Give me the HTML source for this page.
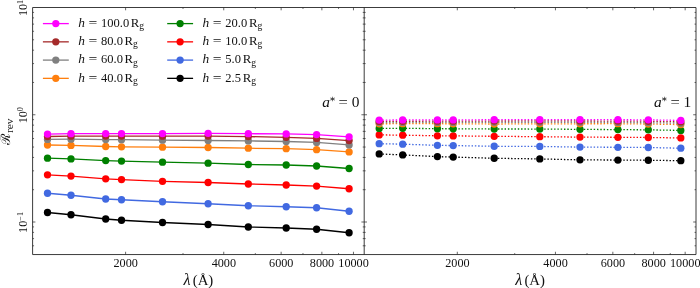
<!DOCTYPE html>
<html lang="en"><head><meta charset="utf-8"><title>R_rev vs wavelength</title>
<style>html,body{margin:0;padding:0;background:#fff}svg{display:block}text{font-family:"Liberation Serif","DejaVu Serif",serif;fill:#111}.it{font-style:italic}</style></head><body>
<svg width="700" height="288" viewBox="0 0 700 288">
<rect x="0" y="0" width="700" height="288" fill="#ffffff"/>
<polyline points="47.50,212.50 71.00,214.75 105.70,219.00 121.50,220.25 162.50,222.50 208.10,224.50 248.30,227.00 286.20,228.00 316.60,229.25 349.10,232.75" fill="none" stroke="#000000" stroke-width="1.30"/>
<circle cx="47.50" cy="212.50" r="3.65" fill="#000000"/>
<circle cx="71.00" cy="214.75" r="3.65" fill="#000000"/>
<circle cx="105.70" cy="219.00" r="3.65" fill="#000000"/>
<circle cx="121.50" cy="220.25" r="3.65" fill="#000000"/>
<circle cx="162.50" cy="222.50" r="3.65" fill="#000000"/>
<circle cx="208.10" cy="224.50" r="3.65" fill="#000000"/>
<circle cx="248.30" cy="227.00" r="3.65" fill="#000000"/>
<circle cx="286.20" cy="228.00" r="3.65" fill="#000000"/>
<circle cx="316.60" cy="229.25" r="3.65" fill="#000000"/>
<circle cx="349.10" cy="232.75" r="3.65" fill="#000000"/>
<polyline points="47.50,193.25 71.00,195.25 105.70,199.00 121.50,199.75 162.50,201.75 208.10,203.75 248.30,205.75 286.20,206.75 316.60,207.75 349.10,211.25" fill="none" stroke="#4169e1" stroke-width="1.30"/>
<circle cx="47.50" cy="193.25" r="3.65" fill="#4169e1"/>
<circle cx="71.00" cy="195.25" r="3.65" fill="#4169e1"/>
<circle cx="105.70" cy="199.00" r="3.65" fill="#4169e1"/>
<circle cx="121.50" cy="199.75" r="3.65" fill="#4169e1"/>
<circle cx="162.50" cy="201.75" r="3.65" fill="#4169e1"/>
<circle cx="208.10" cy="203.75" r="3.65" fill="#4169e1"/>
<circle cx="248.30" cy="205.75" r="3.65" fill="#4169e1"/>
<circle cx="286.20" cy="206.75" r="3.65" fill="#4169e1"/>
<circle cx="316.60" cy="207.75" r="3.65" fill="#4169e1"/>
<circle cx="349.10" cy="211.25" r="3.65" fill="#4169e1"/>
<polyline points="47.50,174.80 71.00,176.05 105.70,178.80 121.50,179.55 162.50,181.30 208.10,182.50 248.30,184.00 286.20,185.00 316.60,186.10 349.10,188.75" fill="none" stroke="#ff0000" stroke-width="1.30"/>
<circle cx="47.50" cy="174.80" r="3.65" fill="#ff0000"/>
<circle cx="71.00" cy="176.05" r="3.65" fill="#ff0000"/>
<circle cx="105.70" cy="178.80" r="3.65" fill="#ff0000"/>
<circle cx="121.50" cy="179.55" r="3.65" fill="#ff0000"/>
<circle cx="162.50" cy="181.30" r="3.65" fill="#ff0000"/>
<circle cx="208.10" cy="182.50" r="3.65" fill="#ff0000"/>
<circle cx="248.30" cy="184.00" r="3.65" fill="#ff0000"/>
<circle cx="286.20" cy="185.00" r="3.65" fill="#ff0000"/>
<circle cx="316.60" cy="186.10" r="3.65" fill="#ff0000"/>
<circle cx="349.10" cy="188.75" r="3.65" fill="#ff0000"/>
<polyline points="47.50,158.20 71.00,158.90 105.70,160.60 121.50,161.10 162.50,162.20 208.10,163.20 248.30,164.50 286.20,165.00 316.60,166.00 349.10,168.50" fill="none" stroke="#008000" stroke-width="1.30"/>
<circle cx="47.50" cy="158.20" r="3.65" fill="#008000"/>
<circle cx="71.00" cy="158.90" r="3.65" fill="#008000"/>
<circle cx="105.70" cy="160.60" r="3.65" fill="#008000"/>
<circle cx="121.50" cy="161.10" r="3.65" fill="#008000"/>
<circle cx="162.50" cy="162.20" r="3.65" fill="#008000"/>
<circle cx="208.10" cy="163.20" r="3.65" fill="#008000"/>
<circle cx="248.30" cy="164.50" r="3.65" fill="#008000"/>
<circle cx="286.20" cy="165.00" r="3.65" fill="#008000"/>
<circle cx="316.60" cy="166.00" r="3.65" fill="#008000"/>
<circle cx="349.10" cy="168.50" r="3.65" fill="#008000"/>
<polyline points="47.50,145.00 71.00,145.40 105.70,146.50 121.50,146.80 162.50,147.20 208.10,147.50 248.30,148.20 286.20,148.70 316.60,149.70 349.10,151.90" fill="none" stroke="#ff7f0e" stroke-width="1.30"/>
<circle cx="47.50" cy="145.00" r="3.65" fill="#ff7f0e"/>
<circle cx="71.00" cy="145.40" r="3.65" fill="#ff7f0e"/>
<circle cx="105.70" cy="146.50" r="3.65" fill="#ff7f0e"/>
<circle cx="121.50" cy="146.80" r="3.65" fill="#ff7f0e"/>
<circle cx="162.50" cy="147.20" r="3.65" fill="#ff7f0e"/>
<circle cx="208.10" cy="147.50" r="3.65" fill="#ff7f0e"/>
<circle cx="248.30" cy="148.20" r="3.65" fill="#ff7f0e"/>
<circle cx="286.20" cy="148.70" r="3.65" fill="#ff7f0e"/>
<circle cx="316.60" cy="149.70" r="3.65" fill="#ff7f0e"/>
<circle cx="349.10" cy="151.90" r="3.65" fill="#ff7f0e"/>
<polyline points="47.50,139.40 71.00,139.20 105.70,139.60 121.50,139.70 162.50,140.20 208.10,140.50 248.30,140.90 286.20,141.50 316.60,142.40 349.10,144.90" fill="none" stroke="#808080" stroke-width="1.30"/>
<circle cx="47.50" cy="139.40" r="3.65" fill="#808080"/>
<circle cx="71.00" cy="139.20" r="3.65" fill="#808080"/>
<circle cx="105.70" cy="139.60" r="3.65" fill="#808080"/>
<circle cx="121.50" cy="139.70" r="3.65" fill="#808080"/>
<circle cx="162.50" cy="140.20" r="3.65" fill="#808080"/>
<circle cx="208.10" cy="140.50" r="3.65" fill="#808080"/>
<circle cx="248.30" cy="140.90" r="3.65" fill="#808080"/>
<circle cx="286.20" cy="141.50" r="3.65" fill="#808080"/>
<circle cx="316.60" cy="142.40" r="3.65" fill="#808080"/>
<circle cx="349.10" cy="144.90" r="3.65" fill="#808080"/>
<polyline points="47.50,136.50 71.00,136.20 105.70,136.10 121.50,136.10 162.50,136.20 208.10,136.10 248.30,136.60 286.20,137.30 316.60,138.40 349.10,140.60" fill="none" stroke="#a52a2a" stroke-width="1.30"/>
<circle cx="47.50" cy="136.50" r="3.65" fill="#a52a2a"/>
<circle cx="71.00" cy="136.20" r="3.65" fill="#a52a2a"/>
<circle cx="105.70" cy="136.10" r="3.65" fill="#a52a2a"/>
<circle cx="121.50" cy="136.10" r="3.65" fill="#a52a2a"/>
<circle cx="162.50" cy="136.20" r="3.65" fill="#a52a2a"/>
<circle cx="208.10" cy="136.10" r="3.65" fill="#a52a2a"/>
<circle cx="248.30" cy="136.60" r="3.65" fill="#a52a2a"/>
<circle cx="286.20" cy="137.30" r="3.65" fill="#a52a2a"/>
<circle cx="316.60" cy="138.40" r="3.65" fill="#a52a2a"/>
<circle cx="349.10" cy="140.60" r="3.65" fill="#a52a2a"/>
<polyline points="47.50,134.10 71.00,133.70 105.70,133.60 121.50,133.60 162.50,133.60 208.10,133.30 248.30,133.70 286.20,133.90 316.60,134.60 349.10,136.80" fill="none" stroke="#ff00ff" stroke-width="1.30"/>
<circle cx="47.50" cy="134.10" r="3.65" fill="#ff00ff"/>
<circle cx="71.00" cy="133.70" r="3.65" fill="#ff00ff"/>
<circle cx="105.70" cy="133.60" r="3.65" fill="#ff00ff"/>
<circle cx="121.50" cy="133.60" r="3.65" fill="#ff00ff"/>
<circle cx="162.50" cy="133.60" r="3.65" fill="#ff00ff"/>
<circle cx="208.10" cy="133.30" r="3.65" fill="#ff00ff"/>
<circle cx="248.30" cy="133.70" r="3.65" fill="#ff00ff"/>
<circle cx="286.20" cy="133.90" r="3.65" fill="#ff00ff"/>
<circle cx="316.60" cy="134.60" r="3.65" fill="#ff00ff"/>
<circle cx="349.10" cy="136.80" r="3.65" fill="#ff00ff"/>
<polyline points="379.20,153.95 402.70,154.91 437.40,156.60 453.20,157.08 494.20,158.26 539.80,158.93 580.00,159.87 617.90,160.05 648.30,160.25 680.80,160.70" fill="none" stroke="#000000" stroke-width="1.30" stroke-dasharray="1.45 1.85"/>
<circle cx="379.20" cy="153.95" r="3.65" fill="#000000"/>
<circle cx="402.70" cy="154.91" r="3.65" fill="#000000"/>
<circle cx="437.40" cy="156.60" r="3.65" fill="#000000"/>
<circle cx="453.20" cy="157.08" r="3.65" fill="#000000"/>
<circle cx="494.20" cy="158.26" r="3.65" fill="#000000"/>
<circle cx="539.80" cy="158.93" r="3.65" fill="#000000"/>
<circle cx="580.00" cy="159.87" r="3.65" fill="#000000"/>
<circle cx="617.90" cy="160.05" r="3.65" fill="#000000"/>
<circle cx="648.30" cy="160.25" r="3.65" fill="#000000"/>
<circle cx="680.80" cy="160.70" r="3.65" fill="#000000"/>
<polyline points="379.20,143.70 402.70,144.16 437.40,145.35 453.20,145.58 494.20,146.26 539.80,146.43 580.00,147.12 617.90,147.30 648.30,147.50 680.80,148.20" fill="none" stroke="#4169e1" stroke-width="1.30" stroke-dasharray="1.45 1.85"/>
<circle cx="379.20" cy="143.70" r="3.65" fill="#4169e1"/>
<circle cx="402.70" cy="144.16" r="3.65" fill="#4169e1"/>
<circle cx="437.40" cy="145.35" r="3.65" fill="#4169e1"/>
<circle cx="453.20" cy="145.58" r="3.65" fill="#4169e1"/>
<circle cx="494.20" cy="146.26" r="3.65" fill="#4169e1"/>
<circle cx="539.80" cy="146.43" r="3.65" fill="#4169e1"/>
<circle cx="580.00" cy="147.12" r="3.65" fill="#4169e1"/>
<circle cx="617.90" cy="147.30" r="3.65" fill="#4169e1"/>
<circle cx="648.30" cy="147.50" r="3.65" fill="#4169e1"/>
<circle cx="680.80" cy="148.20" r="3.65" fill="#4169e1"/>
<polyline points="379.20,134.90 402.70,135.16 437.40,135.80 453.20,135.88 494.20,136.31 539.80,136.68 580.00,137.12 617.90,137.30 648.30,137.50 680.80,137.95" fill="none" stroke="#ff0000" stroke-width="1.30" stroke-dasharray="1.45 1.85"/>
<circle cx="379.20" cy="134.90" r="3.65" fill="#ff0000"/>
<circle cx="402.70" cy="135.16" r="3.65" fill="#ff0000"/>
<circle cx="437.40" cy="135.80" r="3.65" fill="#ff0000"/>
<circle cx="453.20" cy="135.88" r="3.65" fill="#ff0000"/>
<circle cx="494.20" cy="136.31" r="3.65" fill="#ff0000"/>
<circle cx="539.80" cy="136.68" r="3.65" fill="#ff0000"/>
<circle cx="580.00" cy="137.12" r="3.65" fill="#ff0000"/>
<circle cx="617.90" cy="137.30" r="3.65" fill="#ff0000"/>
<circle cx="648.30" cy="137.50" r="3.65" fill="#ff0000"/>
<circle cx="680.80" cy="137.95" r="3.65" fill="#ff0000"/>
<polyline points="379.20,128.40 402.70,128.26 437.40,128.70 453.20,128.78 494.20,129.01 539.80,129.03 580.00,129.37 617.90,129.60 648.30,129.85 680.80,130.40" fill="none" stroke="#008000" stroke-width="1.30" stroke-dasharray="1.45 1.85"/>
<circle cx="379.20" cy="128.40" r="3.65" fill="#008000"/>
<circle cx="402.70" cy="128.26" r="3.65" fill="#008000"/>
<circle cx="437.40" cy="128.70" r="3.65" fill="#008000"/>
<circle cx="453.20" cy="128.78" r="3.65" fill="#008000"/>
<circle cx="494.20" cy="129.01" r="3.65" fill="#008000"/>
<circle cx="539.80" cy="129.03" r="3.65" fill="#008000"/>
<circle cx="580.00" cy="129.37" r="3.65" fill="#008000"/>
<circle cx="617.90" cy="129.60" r="3.65" fill="#008000"/>
<circle cx="648.30" cy="129.85" r="3.65" fill="#008000"/>
<circle cx="680.80" cy="130.40" r="3.65" fill="#008000"/>
<polyline points="379.20,123.80 402.70,123.66 437.40,123.70 453.20,123.78 494.20,124.01 539.80,123.83 580.00,123.77 617.90,123.70 648.30,124.05 680.80,124.60" fill="none" stroke="#ff7f0e" stroke-width="1.30" stroke-dasharray="1.45 1.85"/>
<circle cx="379.20" cy="123.80" r="3.65" fill="#ff7f0e"/>
<circle cx="402.70" cy="123.66" r="3.65" fill="#ff7f0e"/>
<circle cx="437.40" cy="123.70" r="3.65" fill="#ff7f0e"/>
<circle cx="453.20" cy="123.78" r="3.65" fill="#ff7f0e"/>
<circle cx="494.20" cy="124.01" r="3.65" fill="#ff7f0e"/>
<circle cx="539.80" cy="123.83" r="3.65" fill="#ff7f0e"/>
<circle cx="580.00" cy="123.77" r="3.65" fill="#ff7f0e"/>
<circle cx="617.90" cy="123.70" r="3.65" fill="#ff7f0e"/>
<circle cx="648.30" cy="124.05" r="3.65" fill="#ff7f0e"/>
<circle cx="680.80" cy="124.60" r="3.65" fill="#ff7f0e"/>
<polyline points="379.20,122.60 402.70,122.46 437.40,122.40 453.20,122.38 494.20,122.31 539.80,122.23 580.00,122.27 617.90,122.40 648.30,122.65 680.80,123.30" fill="none" stroke="#808080" stroke-width="1.30" stroke-dasharray="1.45 1.85"/>
<circle cx="379.20" cy="122.60" r="3.65" fill="#808080"/>
<circle cx="402.70" cy="122.46" r="3.65" fill="#808080"/>
<circle cx="437.40" cy="122.40" r="3.65" fill="#808080"/>
<circle cx="453.20" cy="122.38" r="3.65" fill="#808080"/>
<circle cx="494.20" cy="122.31" r="3.65" fill="#808080"/>
<circle cx="539.80" cy="122.23" r="3.65" fill="#808080"/>
<circle cx="580.00" cy="122.27" r="3.65" fill="#808080"/>
<circle cx="617.90" cy="122.40" r="3.65" fill="#808080"/>
<circle cx="648.30" cy="122.65" r="3.65" fill="#808080"/>
<circle cx="680.80" cy="123.30" r="3.65" fill="#808080"/>
<polyline points="379.20,121.40 402.70,121.26 437.40,121.20 453.20,121.18 494.20,121.01 539.80,120.93 580.00,120.97 617.90,121.10 648.30,121.25 680.80,121.90" fill="none" stroke="#a52a2a" stroke-width="1.30" stroke-dasharray="1.45 1.85"/>
<circle cx="379.20" cy="121.40" r="3.65" fill="#a52a2a"/>
<circle cx="402.70" cy="121.26" r="3.65" fill="#a52a2a"/>
<circle cx="437.40" cy="121.20" r="3.65" fill="#a52a2a"/>
<circle cx="453.20" cy="121.18" r="3.65" fill="#a52a2a"/>
<circle cx="494.20" cy="121.01" r="3.65" fill="#a52a2a"/>
<circle cx="539.80" cy="120.93" r="3.65" fill="#a52a2a"/>
<circle cx="580.00" cy="120.97" r="3.65" fill="#a52a2a"/>
<circle cx="617.90" cy="121.10" r="3.65" fill="#a52a2a"/>
<circle cx="648.30" cy="121.25" r="3.65" fill="#a52a2a"/>
<circle cx="680.80" cy="121.90" r="3.65" fill="#a52a2a"/>
<polyline points="379.20,120.10 402.70,119.96 437.40,119.90 453.20,119.88 494.20,119.71 539.80,119.53 580.00,119.57 617.90,119.70 648.30,119.85 680.80,120.40" fill="none" stroke="#ff00ff" stroke-width="1.30" stroke-dasharray="1.45 1.85"/>
<circle cx="379.20" cy="120.10" r="3.65" fill="#ff00ff"/>
<circle cx="402.70" cy="119.96" r="3.65" fill="#ff00ff"/>
<circle cx="437.40" cy="119.90" r="3.65" fill="#ff00ff"/>
<circle cx="453.20" cy="119.88" r="3.65" fill="#ff00ff"/>
<circle cx="494.20" cy="119.71" r="3.65" fill="#ff00ff"/>
<circle cx="539.80" cy="119.53" r="3.65" fill="#ff00ff"/>
<circle cx="580.00" cy="119.57" r="3.65" fill="#ff00ff"/>
<circle cx="617.90" cy="119.70" r="3.65" fill="#ff00ff"/>
<circle cx="648.30" cy="119.85" r="3.65" fill="#ff00ff"/>
<circle cx="680.80" cy="120.40" r="3.65" fill="#ff00ff"/>
<path d="M125.60 254.55L125.60 251.75M125.60 7.50L125.60 10.30M223.74 254.55L223.74 251.75M223.74 7.50L223.74 10.30M281.14 254.55L281.14 251.75M281.14 7.50L281.14 10.30M321.87 254.55L321.87 251.75M321.87 7.50L321.87 10.30M353.46 254.55L353.46 251.75M353.46 7.50L353.46 10.30M183.01 254.55L183.01 253.10M183.01 7.50L183.01 8.95M255.33 254.55L255.33 253.10M255.33 7.50L255.33 8.95M302.97 254.55L302.97 253.10M302.97 7.50L302.97 8.95M338.55 254.55L338.55 253.10M338.55 7.50L338.55 8.95M457.30 254.55L457.30 251.75M457.30 7.50L457.30 10.30M555.44 254.55L555.44 251.75M555.44 7.50L555.44 10.30M612.84 254.55L612.84 251.75M612.84 7.50L612.84 10.30M653.57 254.55L653.57 251.75M653.57 7.50L653.57 10.30M685.16 254.55L685.16 251.75M685.16 7.50L685.16 10.30M514.71 254.55L514.71 253.10M514.71 7.50L514.71 8.95M587.03 254.55L587.03 253.10M587.03 7.50L587.03 8.95M634.67 254.55L634.67 253.10M634.67 7.50L634.67 8.95M670.25 254.55L670.25 253.10M670.25 7.50L670.25 8.95M32.60 245.79L34.05 245.79M362.75 245.79L365.65 245.79M696.00 245.79L694.55 245.79M32.60 238.61L34.05 238.61M362.75 238.61L365.65 238.61M696.00 238.61L694.55 238.61M32.60 232.39L34.05 232.39M362.75 232.39L365.65 232.39M696.00 232.39L694.55 232.39M32.60 226.91L34.05 226.91M362.75 226.91L365.65 226.91M696.00 226.91L694.55 226.91M32.60 222.00L35.40 222.00M361.40 222.00L367.00 222.00M696.00 222.00L693.20 222.00M32.60 189.71L34.05 189.71M362.75 189.71L365.65 189.71M696.00 189.71L694.55 189.71M32.60 170.83L34.05 170.83M362.75 170.83L365.65 170.83M696.00 170.83L694.55 170.83M32.60 157.43L34.05 157.43M362.75 157.43L365.65 157.43M696.00 157.43L694.55 157.43M32.60 147.04L34.05 147.04M362.75 147.04L365.65 147.04M696.00 147.04L694.55 147.04M32.60 138.54L34.05 138.54M362.75 138.54L365.65 138.54M696.00 138.54L694.55 138.54M32.60 131.36L34.05 131.36M362.75 131.36L365.65 131.36M696.00 131.36L694.55 131.36M32.60 125.14L34.05 125.14M362.75 125.14L365.65 125.14M696.00 125.14L694.55 125.14M32.60 119.66L34.05 119.66M362.75 119.66L365.65 119.66M696.00 119.66L694.55 119.66M32.60 114.75L35.40 114.75M361.40 114.75L367.00 114.75M696.00 114.75L693.20 114.75M32.60 82.46L34.05 82.46M362.75 82.46L365.65 82.46M696.00 82.46L694.55 82.46M32.60 63.58L34.05 63.58M362.75 63.58L365.65 63.58M696.00 63.58L694.55 63.58M32.60 50.18L34.05 50.18M362.75 50.18L365.65 50.18M696.00 50.18L694.55 50.18M32.60 39.79L34.05 39.79M362.75 39.79L365.65 39.79M696.00 39.79L694.55 39.79M32.60 31.29L34.05 31.29M362.75 31.29L365.65 31.29M696.00 31.29L694.55 31.29M32.60 24.11L34.05 24.11M362.75 24.11L365.65 24.11M696.00 24.11L694.55 24.11M32.60 17.89L34.05 17.89M362.75 17.89L365.65 17.89M696.00 17.89L694.55 17.89M32.60 12.41L34.05 12.41M362.75 12.41L365.65 12.41M696.00 12.41L694.55 12.41" stroke="#262626" stroke-width="0.70" fill="none"/>
<path d="M32.60 7.50H696.00V254.55H32.60ZM364.20 7.50V254.55" stroke="#262626" stroke-width="0.90" fill="none"/>
<text x="125.70" y="266.5" font-size="12.2" text-anchor="middle">2000</text>
<text x="223.84" y="266.5" font-size="12.2" text-anchor="middle">4000</text>
<text x="281.24" y="266.5" font-size="12.2" text-anchor="middle">6000</text>
<text x="321.97" y="266.5" font-size="12.2" text-anchor="middle">8000</text>
<text x="353.56" y="266.5" font-size="12.2" text-anchor="middle">10000</text>
<text x="457.40" y="266.5" font-size="12.2" text-anchor="middle">2000</text>
<text x="555.54" y="266.5" font-size="12.2" text-anchor="middle">4000</text>
<text x="612.94" y="266.5" font-size="12.2" text-anchor="middle">6000</text>
<text x="653.67" y="266.5" font-size="12.2" text-anchor="middle">8000</text>
<text x="685.26" y="266.5" font-size="12.2" text-anchor="middle">10000</text>
<text transform="translate(26.9 7.90) rotate(-90)" font-size="12.2" text-anchor="middle">10<tspan dy="-3.8" font-size="8.4">1</tspan></text>
<text transform="translate(26.9 115.15) rotate(-90)" font-size="12.2" text-anchor="middle">10<tspan dy="-3.8" font-size="8.4">0</tspan></text>
<text transform="translate(26.9 222.40) rotate(-90)" font-size="12.2" text-anchor="middle">10<tspan dy="-3.8" font-size="8.4">−1</tspan></text>
<text x="198.40" y="284.5" font-size="14.8" text-anchor="middle"><tspan class="it" font-size="16.2">λ</tspan><tspan dx="2.2">(Å)</tspan></text>
<text x="530.10" y="284.5" font-size="14.8" text-anchor="middle"><tspan class="it" font-size="16.2">λ</tspan><tspan dx="2.2">(Å)</tspan></text>
<text transform="translate(10.2 145.4) rotate(-90)" font-size="13.2" font-family="'DejaVu Sans',sans-serif">ℛ</text>
<text transform="translate(12.8 133.0) rotate(-90)" font-size="11.4">rev</text>
<text y="106.9" font-size="15.4"><tspan x="322.20" class="it">a</tspan><tspan x="329.20" dy="-5.3" font-size="9.6">∗</tspan><tspan x="338.60" dy="5.3" textLength="9.3" lengthAdjust="spacingAndGlyphs">=</tspan><tspan x="351.80">0</tspan></text>
<text y="106.9" font-size="15.4"><tspan x="654.00" class="it">a</tspan><tspan x="661.00" dy="-5.3" font-size="9.6">∗</tspan><tspan x="670.40" dy="5.3" textLength="9.3" lengthAdjust="spacingAndGlyphs">=</tspan><tspan x="683.60">1</tspan></text>
<path d="M42.90 23.60H68.80" stroke="#ff00ff" stroke-width="1.30"/>
<circle cx="55.80" cy="23.60" r="3.65" fill="#ff00ff"/>
<text y="26.90" font-size="12.5"><tspan x="78.30" class="it" font-size="13.4">h</tspan><tspan x="88.50" textLength="8.8" lengthAdjust="spacingAndGlyphs">=</tspan><tspan x="101.00">100.0</tspan><tspan dx="1.7" font-size="12.8">R</tspan><tspan dy="2.3" font-size="9.6">g</tspan></text>
<path d="M42.90 41.85H68.80" stroke="#a52a2a" stroke-width="1.30"/>
<circle cx="55.80" cy="41.85" r="3.65" fill="#a52a2a"/>
<text y="45.15" font-size="12.5"><tspan x="78.30" class="it" font-size="13.4">h</tspan><tspan x="88.50" textLength="8.8" lengthAdjust="spacingAndGlyphs">=</tspan><tspan x="101.00">80.0</tspan><tspan dx="1.7" font-size="12.8">R</tspan><tspan dy="2.3" font-size="9.6">g</tspan></text>
<path d="M42.90 60.10H68.80" stroke="#808080" stroke-width="1.30"/>
<circle cx="55.80" cy="60.10" r="3.65" fill="#808080"/>
<text y="63.40" font-size="12.5"><tspan x="78.30" class="it" font-size="13.4">h</tspan><tspan x="88.50" textLength="8.8" lengthAdjust="spacingAndGlyphs">=</tspan><tspan x="101.00">60.0</tspan><tspan dx="1.7" font-size="12.8">R</tspan><tspan dy="2.3" font-size="9.6">g</tspan></text>
<path d="M42.90 78.35H68.80" stroke="#ff7f0e" stroke-width="1.30"/>
<circle cx="55.80" cy="78.35" r="3.65" fill="#ff7f0e"/>
<text y="81.65" font-size="12.5"><tspan x="78.30" class="it" font-size="13.4">h</tspan><tspan x="88.50" textLength="8.8" lengthAdjust="spacingAndGlyphs">=</tspan><tspan x="101.00">40.0</tspan><tspan dx="1.7" font-size="12.8">R</tspan><tspan dy="2.3" font-size="9.6">g</tspan></text>
<path d="M167.20 23.60H193.10" stroke="#008000" stroke-width="1.30"/>
<circle cx="180.10" cy="23.60" r="3.65" fill="#008000"/>
<text y="26.90" font-size="12.5"><tspan x="202.60" class="it" font-size="13.4">h</tspan><tspan x="212.80" textLength="8.8" lengthAdjust="spacingAndGlyphs">=</tspan><tspan x="225.30">20.0</tspan><tspan dx="1.7" font-size="12.8">R</tspan><tspan dy="2.3" font-size="9.6">g</tspan></text>
<path d="M167.20 41.85H193.10" stroke="#ff0000" stroke-width="1.30"/>
<circle cx="180.10" cy="41.85" r="3.65" fill="#ff0000"/>
<text y="45.15" font-size="12.5"><tspan x="202.60" class="it" font-size="13.4">h</tspan><tspan x="212.80" textLength="8.8" lengthAdjust="spacingAndGlyphs">=</tspan><tspan x="225.30">10.0</tspan><tspan dx="1.7" font-size="12.8">R</tspan><tspan dy="2.3" font-size="9.6">g</tspan></text>
<path d="M167.20 60.10H193.10" stroke="#4169e1" stroke-width="1.30"/>
<circle cx="180.10" cy="60.10" r="3.65" fill="#4169e1"/>
<text y="63.40" font-size="12.5"><tspan x="202.60" class="it" font-size="13.4">h</tspan><tspan x="212.80" textLength="8.8" lengthAdjust="spacingAndGlyphs">=</tspan><tspan x="225.30">5.0</tspan><tspan dx="1.7" font-size="12.8">R</tspan><tspan dy="2.3" font-size="9.6">g</tspan></text>
<path d="M167.20 78.35H193.10" stroke="#000000" stroke-width="1.30"/>
<circle cx="180.10" cy="78.35" r="3.65" fill="#000000"/>
<text y="81.65" font-size="12.5"><tspan x="202.60" class="it" font-size="13.4">h</tspan><tspan x="212.80" textLength="8.8" lengthAdjust="spacingAndGlyphs">=</tspan><tspan x="225.30">2.5</tspan><tspan dx="1.7" font-size="12.8">R</tspan><tspan dy="2.3" font-size="9.6">g</tspan></text>
</svg></body></html>
